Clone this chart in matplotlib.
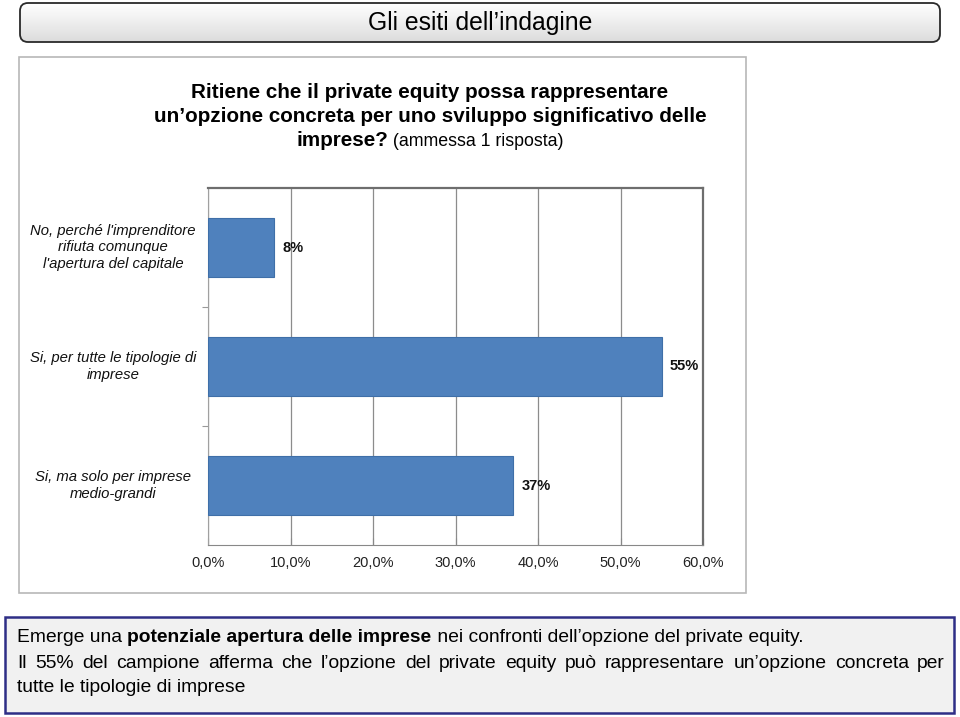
"""
Gli esiti dell'indagine - private equity survey slide
Horizontal bar chart with title bar and comment box
"""
import numpy as np
import matplotlib.pyplot as plt
from matplotlib.patches import FancyBboxPatch, Rectangle

plt.rcParams['font.family'] = ['Liberation Sans', 'DejaVu Sans']

# Data
categories = ["No, perché l'imprenditore\nrifiuta comunque\nl'apertura del capitale",
              "Si, per tutte le tipologie di\nimprese",
              "Si, ma solo per imprese\nmedio-grandi"]
values = [8, 55, 37]
value_labels = ['8%', '55%', '37%']
x_ticks = [0, 10, 20, 30, 40, 50, 60]
x_tick_labels = ['0,0%', '10,0%', '20,0%', '30,0%', '40,0%', '50,0%', '60,0%']

W, H = 960, 717
fig = plt.figure(figsize=(W / 100, H / 100), dpi=100)
fig.patch.set_facecolor('white')


def fx(px):
    return px / W


def fy(py):
    return 1 - py / H


# ----- Title bar with gradient -----
bg = fig.add_axes([0, 0, 1, 1], zorder=0)
bg.set_xlim(0, W)
bg.set_ylim(H, 0)
bg.axis('off')

title_box = FancyBboxPatch((20, 3), 920, 39, boxstyle='round,pad=0,rounding_size=8',
                           facecolor='none', edgecolor='#2a2a2a', linewidth=1.3, zorder=3)
bg.add_patch(title_box)
grad = np.linspace(1.0, 0.86, 100).reshape(-1, 1)
im = bg.imshow(grad, extent=[20, 940, 42, 3], cmap='gray', vmin=0, vmax=1,
               aspect='auto', zorder=2)
im.set_clip_path(title_box)
bg.text(480, 23, "Gli esiti dell\u2019indagine", ha='center', va='center',
        fontsize=17.8, color='black', zorder=4)

# Chart panel
bg.add_patch(Rectangle((19, 57), 727, 536, facecolor='white', edgecolor='#b8b8b8',
                       linewidth=1.2, zorder=1))

# Comment box
bg.add_patch(Rectangle((5, 617), 949, 96, facecolor='#f1f1f1', edgecolor='#2e2e86',
                       linewidth=1.8, zorder=1))

# Chart title
bg.text(430, 92, "Ritiene che il private equity possa rappresentare", ha='center',
        va='center', fontsize=14.9, fontweight='bold', color='black', zorder=4)
bg.text(430, 116, "un\u2019opzione concreta per uno sviluppo significativo delle", ha='center',
        va='center', fontsize=14.9, fontweight='bold', color='black', zorder=4)

fig.canvas.draw()
renderer = fig.canvas.get_renderer()


def text_w(t):
    bb = t.get_window_extent(renderer)
    return bb.width


t1 = bg.text(0, 141, "imprese?", ha='left', va='center', fontsize=14.9,
             fontweight='bold', color='black', zorder=4)
t2 = bg.text(0, 141, " (ammessa 1 risposta)", ha='left', va='center', fontsize=12.8,
             color='black', zorder=4)
w1, w2 = text_w(t1), text_w(t2)
x0 = 430 - (w1 + w2) / 2
t1.set_x(x0)
t2.set_x(x0 + w1)

# ----- Bar chart -----
ax = fig.add_axes([fx(208), fy(545), fx(703) - fx(208), fy(188) - fy(545)], zorder=2)
ax.set_facecolor('none')
y = np.arange(len(categories))
ax.barh(y, values, height=0.5, color='#4f81bd', edgecolor='#3f6fa8', linewidth=0.8, zorder=3)
ax.set_xlim(0, 60)
ax.set_ylim(len(categories) - 0.5, -0.5)
ax.set_xticks(x_ticks)
ax.set_xticklabels(x_tick_labels, fontsize=10.5, color='#222222')
ax.grid(axis='x', color='#8c8c8c', linewidth=0.9, zorder=0)
ax.set_yticks([0.5, 1.5])
ax.set_yticklabels([])
ax.tick_params(axis='y', length=4, color='#999999', direction='out')
ax.tick_params(axis='x', length=5, color='#888888', direction='in', pad=8)
ax.spines['top'].set_color('#6e6e6e')
ax.spines['top'].set_linewidth(1.6)
ax.spines['right'].set_color('#6e6e6e')
ax.spines['right'].set_linewidth(1.6)
ax.spines['left'].set_color('#a0a0a0')
ax.spines['bottom'].set_color('#888888')

for i, (v, lab) in enumerate(zip(values, value_labels)):
    ax.text(v + 1.0, i, lab, ha='left', va='center', fontsize=10.5,
            fontweight='bold', color='#111111')

for i, cat in enumerate(categories):
    yy = ax.transData.transform((0, i))[1]
    fig.text(fx(113), yy / fig.dpi / fig.get_figheight(), cat, ha='center', va='center',
             fontsize=10.7, fontstyle='italic', color='#111111', linespacing=1.25)

# ----- Comment text -----
fs = 13.9
x = 17
pieces = [("Emerge una ", 'normal'), ("potenziale apertura delle imprese", 'bold'),
          (" nei confronti dell\u2019opzione del private equity.", 'normal')]
for s, wgt in pieces:
    t = bg.text(x, 638, s, ha='left', va='center', fontsize=fs, fontweight=wgt, zorder=4)
    x += text_w(t)

# justified second line
line2 = ("Il 55% del campione afferma che l\u2019opzione del private equity pu\u00f2 "
         "rappresentare un\u2019opzione concreta per").split(' ')
words = [bg.text(0, 663, w, ha='left', va='center', fontsize=fs, zorder=4) for w in line2]
widths = [text_w(w) for w in words]
gap = (945 - 17 - sum(widths)) / (len(words) - 1)
x = 17
for w, ww in zip(words, widths):
    w.set_x(x)
    x += ww + gap

bg.text(17, 688, "tutte le tipologie di imprese", ha='left', va='center', fontsize=fs, zorder=4)

plt.savefig('out.png', dpi=100, facecolor='white')
plt.close()
